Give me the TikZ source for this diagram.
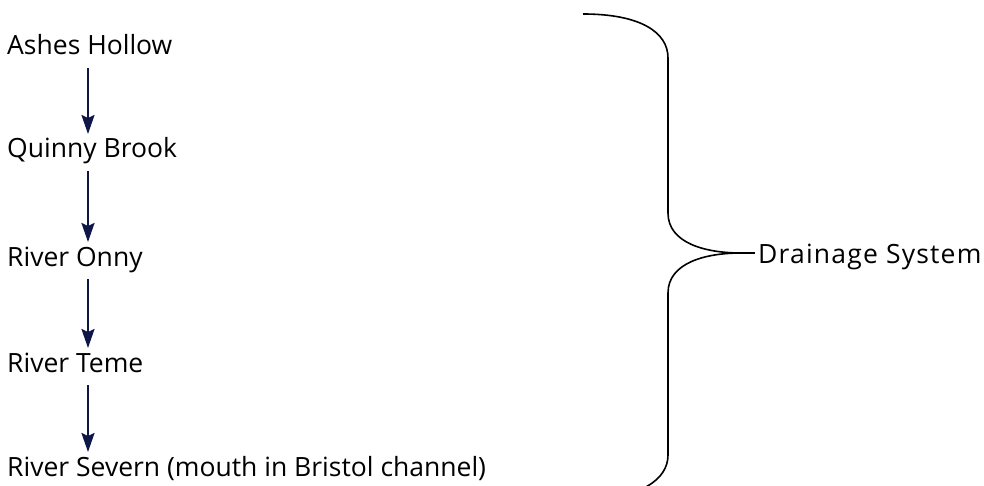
\documentclass[tikz,border=0pt]{standalone}
\usepackage{fontspec}
\setmainfont{Open Sans}
\usetikzlibrary{arrows.meta,calc}
\definecolor{flownavy}{HTML}{0F1748}
\begin{document}
\begin{tikzpicture}[x=1pt,y=-1pt,
  lbl/.style={inner sep=0pt,anchor=base west,font=\fontsize{26.5}{30}\selectfont},
  flow/.style={draw=flownavy,line width=2.2pt,-{Stealth[length=19pt,width=13pt,inset=3pt]}},
  brace/.style={draw=black,line width=1.6pt}]
\useasboundingbox (0,0) rectangle (984,486);
\clip (0,0) rectangle (984,486);

% river sequence
\node[lbl] (ashes)  at (7,55)  {Ashes Hollow};
\node[lbl] (quinny) at (7,158) {Quinny Brook};
\node[lbl] (onny)   at (7,266) {River Onny};
\node[lbl] (teme)   at (7,372) {River Teme};
\node[lbl] (severn) at (7,476) {River Severn (mouth in Bristol channel)};

\foreach \a/\b in {ashes/quinny,quinny/onny,onny/teme,teme/severn}
  \draw[flow] ($(\a.base west)+(81,13)$) -- ($(\b.base west)+(81,-24)$);

% grouping brace and its label
\node[lbl,font=\fontsize{26.5}{30}\selectfont\addfontfeatures{LetterSpace=4.5}] (ds) at (758,263) {Drainage System};
\coordinate (tip) at (741,253);
\draw[brace] (583,14) .. controls (640,14) and (668,32) .. (668,58)
  -- (668,213) .. controls (668,243) and (705,253) .. (tip)
  .. controls (705,253) and (668,263) .. (668,293)
  -- (668,455) .. controls (668,480) and (640,499) .. (583,499);
\draw[brace] (tip) -- ([xshift=-3pt]tip -| ds.west);
\end{tikzpicture}
\end{document}
